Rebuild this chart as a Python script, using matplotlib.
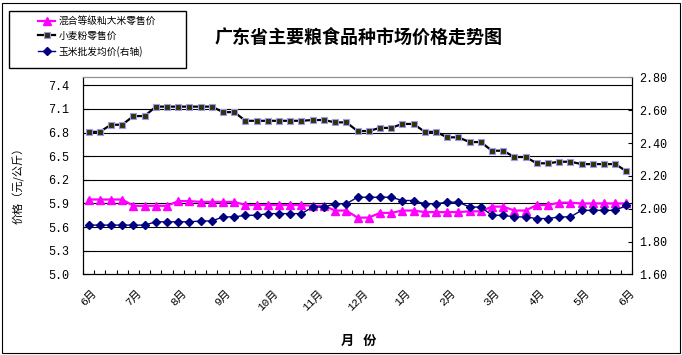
import numpy as np
import matplotlib
matplotlib.use('Agg')
from matplotlib import pyplot as plt
from matplotlib.patches import Rectangle
from matplotlib.lines import Line2D

plt.rcParams['font.family'] = ['Noto Sans CJK SC', 'DejaVu Sans']

# weekly prices, Jun -> next Jun (49 points)
rice = [5.95, 5.95, 5.95, 5.95, 5.87, 5.87, 5.87, 5.87, 5.93, 5.93,
        5.92, 5.92, 5.92, 5.92, 5.88, 5.88, 5.88, 5.88, 5.88, 5.88,
        5.87, 5.87, 5.81, 5.81, 5.72, 5.72, 5.78, 5.78, 5.81, 5.81,
        5.79, 5.79, 5.79, 5.79, 5.80, 5.80, 5.86, 5.86, 5.81, 5.81,
        5.88, 5.88, 5.91, 5.91, 5.90, 5.90, 5.90, 5.90, 5.90]
flour = [6.81, 6.81, 6.90, 6.90, 7.01, 7.01, 7.13, 7.13, 7.13, 7.13,
         7.13, 7.13, 7.06, 7.06, 6.95, 6.95, 6.95, 6.95, 6.95, 6.95,
         6.96, 6.96, 6.93, 6.93, 6.82, 6.82, 6.86, 6.86, 6.91, 6.91,
         6.81, 6.81, 6.74, 6.74, 6.68, 6.68, 6.57, 6.57, 6.49, 6.49,
         6.41, 6.41, 6.43, 6.43, 6.40, 6.40, 6.40, 6.40, 6.31]
corn = [1.90, 1.90, 1.90, 1.90, 1.90, 1.90, 1.92, 1.92, 1.92, 1.92,
        1.925, 1.925, 1.95, 1.95, 1.96, 1.96, 1.97, 1.97, 1.97, 1.97,
        2.01, 2.01, 2.03, 2.03, 2.07, 2.07, 2.07, 2.07, 2.05, 2.05,
        2.03, 2.03, 2.04, 2.04, 2.01, 2.01, 1.96, 1.96, 1.95, 1.95,
        1.94, 1.94, 1.95, 1.95, 1.99, 1.99, 1.99, 1.99, 2.02]
months = ['6月', '7月', '8月', '9月', '10月', '11月', '12月',
          '1月', '2月', '3月', '4月', '5月', '6月']
left_ticks = [5.0, 5.3, 5.6, 5.9, 6.2, 6.5, 6.8, 7.1, 7.4]
right_ticks = [1.6, 1.8, 2.0, 2.2, 2.4, 2.6, 2.8]

labels = ['混合等级籼大米零售价', '小麦粉零售价', '玉米批发均价(右轴)']
num_font = ['Liberation Mono', 'Noto Sans CJK SC']

x = np.arange(len(rice))

fig = plt.figure(figsize=(6.82, 3.55), dpi=100)
ax = fig.add_axes([0.1217, 0.2273, 0.805, 0.5544])
ax2 = ax.twinx()

ax.plot(x, rice, color='#FF00FF', lw=1.6, marker='^', ms=5.5,
        mfc='#FF00FF', mec='#FF00FF', zorder=3)
ax.plot(x, flour, color='black', lw=1.6, marker='s', ms=4.5,
        mfc='#333300', mec='#9999FF', mew=0.8, zorder=3)
ax2.plot(x, corn, color='#000080', lw=1.0, marker='D', ms=4.5,
         mfc='#000080', mec='#000080', zorder=3)

ax.set_xlim(-0.5, len(rice) - 0.5)
ax.set_ylim(5.0, 7.5)
ax2.set_ylim(1.6, 2.8)

for yv in left_ticks[1:]:
    ax.axhline(yv, color='black', lw=0.8, zorder=1)

ax.set_yticks(left_ticks)
ax.set_yticklabels(['%.1f' % v for v in left_ticks], family=num_font, fontsize=8.5)
ax.tick_params(axis='y', direction='in', length=4, width=0.8, pad=10)
ax2.set_yticks(right_ticks)
ax2.set_yticklabels(['%.2f' % v for v in right_ticks], family=num_font, fontsize=8.5)
ax2.tick_params(axis='y', direction='in', length=3, width=0.8, pad=5)

ax.set_xticks(np.arange(0, len(rice), 4))
ax.set_xticklabels(months, family=num_font, fontsize=8, rotation=45,
                   ha='center', va='top')
ax.set_xticks(np.arange(-0.5, len(rice), 1), minor=True)
ax.tick_params(axis='x', which='major', length=0, pad=10)
ax.tick_params(axis='x', which='minor', direction='in', length=3, width=0.8)

for a in (ax, ax2):
    for s in a.spines.values():
        s.set_linewidth(0.8)
    a.spines['top'].set_color('#909090')

ax.set_ylabel('价格（元/公斤）', fontsize=8)
ax.yaxis.set_label_coords(-0.1056, 0.464)
ax.set_xlabel('月   份', fontsize=9.5, fontweight='bold')
ax.xaxis.set_label_coords(0.503, -0.303)

fig.text(0.525, 1 - 37 / 355, '广东省主要粮食品种市场价格走势图',
         ha='center', va='center', fontsize=13, fontweight='bold')

handles = [
    Line2D([], [], color='#FF00FF', lw=1.6, marker='^', ms=5.5, mfc='#FF00FF', mec='#FF00FF'),
    Line2D([], [], color='black', lw=1.6, marker='s', ms=4.5, mfc='#333300', mec='#9999FF', mew=0.8),
    Line2D([], [], color='#000080', lw=1.0, marker='D', ms=4.5, mfc='#000080', mec='#000080'),
]
fig.legend(handles, labels, loc='upper left', bbox_to_anchor=(38 / 682, 1 - 16 / 355),
           frameon=False, fontsize=7, borderpad=0, borderaxespad=0,
           handlelength=1.75, handletextpad=0.4, labelspacing=0.5)
fig.patches.append(Rectangle((9 / 682, 1 - 68 / 355), 177 / 682, 57 / 355,
                             transform=fig.transFigure, fill=False, ec='black', lw=1))
fig.patches.append(Rectangle((2 / 682, 2 / 355), 678 / 682, 350 / 355,
                             transform=fig.transFigure, fill=False, ec='black', lw=0.8))

fig.savefig('out.png', dpi=100)
